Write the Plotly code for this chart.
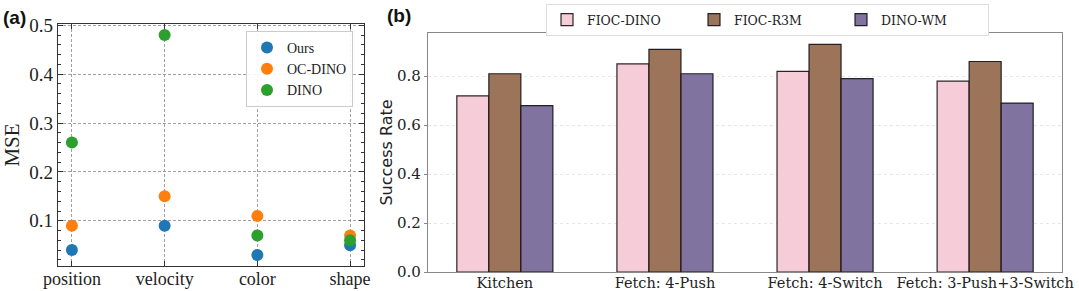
import plotly.graph_objects as go

# ---------- Panel (a) data ----------
attributes = ["position", "velocity", "color", "shape"]
mse_ours = [0.04, 0.09, 0.03, 0.05]
mse_ocdino = [0.09, 0.15, 0.11, 0.07]
mse_dino = [0.26, 0.48, 0.07, 0.06]

# ---------- Panel (b) data ----------
tasks = ["Kitchen", "Fetch: 4-Push", "Fetch: 4-Switch", "Fetch: 3-Push+3-Switch"]
sr_fioc_dino = [0.72, 0.85, 0.82, 0.78]
sr_fioc_r3m = [0.81, 0.91, 0.93, 0.86]
sr_dino_wm = [0.68, 0.81, 0.79, 0.69]

W, H = 1079, 291
fig = go.Figure()

xa = list(range(len(attributes)))
for name, vals, col in [("Ours", mse_ours, "#1f77b4"),
                        ("OC-DINO", mse_ocdino, "#ff7f0e"),
                        ("DINO", mse_dino, "#2ca02c")]:
    fig.add_trace(go.Scatter(x=xa, y=vals, mode="markers", name=name,
                             marker=dict(color=col, size=12, line=dict(width=0)),
                             xaxis="x", yaxis="y", legend="legend"))

xb = list(range(len(tasks)))
for name, vals, col in [("FIOC-DINO", sr_fioc_dino, "#f5ccd8"),
                        ("FIOC-R3M", sr_fioc_r3m, "#9c7459"),
                        ("DINO-WM", sr_dino_wm, "#80739f")]:
    fig.add_trace(go.Bar(x=xb, y=vals, name=name, width=0.2,
                         marker=dict(color=col, line=dict(color="rgba(20,15,20,0.9)", width=1.2)),
                         xaxis="x2", yaxis="y2", legend="legend2"))

serif_a = "Liberation Serif"
serif_b = "DejaVu Serif"

fig.update_layout(
    width=W, height=H,
    margin=dict(l=0, r=0, t=0, b=0, autoexpand=False),
    paper_bgcolor="white", plot_bgcolor="white",
    barmode="group", bargap=0.4, bargroupgap=0,
    showlegend=True,
    xaxis=dict(domain=[58 / W, 364 / W], range=[-0.15, 3.15],
               tickvals=xa, ticktext=attributes,
               tickfont=dict(family=serif_a, size=18, color="#222"),
               ticklabelstandoff=-4,
               showline=True, linecolor="#333", linewidth=1.2, mirror="allticks",
               ticks="inside", ticklen=5, tickcolor="#333",
               showgrid=True, gridcolor="#a0a0a0", griddash="3px,2px", gridwidth=0.8,
               zeroline=False, anchor="y"),
    yaxis=dict(domain=[1 - 266 / H, 1 - 24 / H], range=[0.0075, 0.5025],
               tick0=0, dtick=0.1, tickformat=".1f",
               tickfont=dict(family=serif_a, size=19, color="#222"),
               showline=True, linecolor="#333", linewidth=1.2, mirror="allticks",
               ticks="inside", ticklen=5, tickcolor="#333",
               minor=dict(dtick=0.02, tick0=0, ticks="inside", ticklen=3, tickcolor="#333", showgrid=False),
               showgrid=True, gridcolor="#a0a0a0", griddash="3px,2px", gridwidth=0.8,
               zeroline=False, anchor="x",
               title=dict(text="MSE", font=dict(family=serif_a, size=21, color="#222"), standoff=6)),
    xaxis2=dict(domain=[428 / W, 1062 / W], range=[-0.48, 3.48],
                tickvals=xb, ticktext=tasks,
                tickfont=dict(family=serif_b, size=14.5, color="#222"),
                ticklabelstandoff=-3,
                showline=True, linecolor="#888", linewidth=1.2, mirror=True,
                ticks="", showgrid=False, zeroline=False, anchor="y2"),
    yaxis2=dict(domain=[1 - 272 / H, 1 - 33 / H], range=[0, 0.9765],
                tick0=0, dtick=0.2, tickformat=".1f",
                tickfont=dict(family=serif_b, size=15, color="#222"),
                showline=True, linecolor="#888", linewidth=1.2, mirror=True,
                ticks="outside", ticklen=3, tickcolor="#888",
                showgrid=True, gridcolor="#e6e6e6", griddash="dot", gridwidth=1,
                zeroline=False, anchor="x2",
                title=dict(text="Success Rate", font=dict(family="DejaVu Sans", size=16, color="#222"), standoff=0)),
    legend=dict(x=246 / W, y=1 - 31 / H, xanchor="left", yanchor="top",
                bgcolor="rgba(255,255,255,0.9)", bordercolor="#ccc", borderwidth=1,
                font=dict(family=serif_a, size=14, color="#222"),
                itemwidth=30, tracegroupgap=0),
    legend2=dict(orientation="h", x=546 / W, y=1 - 4 / H, xanchor="left", yanchor="top",
                 bgcolor="white", bordercolor="#ddd", borderwidth=1,
                 font=dict(family=serif_b, size=12.5, color="#222"),
                 entrywidth=102, entrywidthmode="pixels"),
    annotations=[
        dict(text="<b>(a)</b>", x=1 / W, y=1 - 17 / H, xref="paper", yref="paper",
             xanchor="left", yanchor="middle", showarrow=False,
             font=dict(family="Liberation Sans", size=19, color="#111")),
        dict(text="<b>(b)</b>", x=385 / W, y=1 - 15 / H, xref="paper", yref="paper",
             xanchor="left", yanchor="middle", showarrow=False,
             font=dict(family="Liberation Sans", size=19, color="#111")),
    ],
)

fig.write_html("out.html", config={"displayModeBar": False},
               post_script="document.body.style.margin='0';document.body.style.overflow='hidden';")
